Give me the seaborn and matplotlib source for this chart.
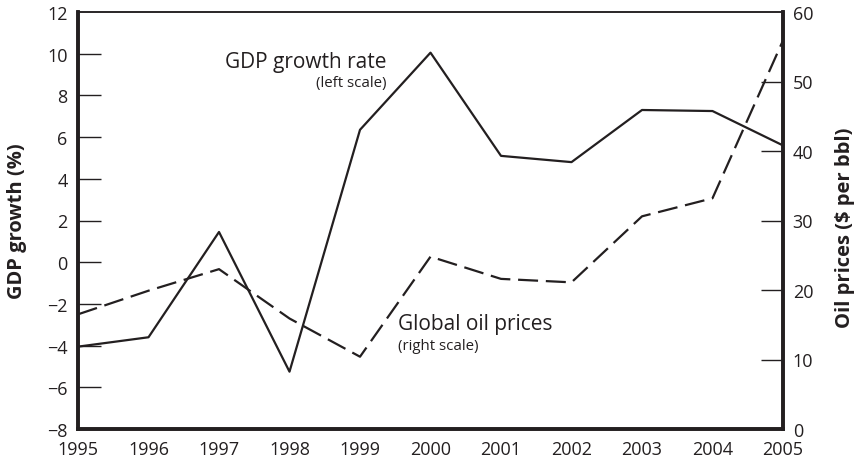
import matplotlib
matplotlib.use("Agg")
import matplotlib.pyplot as plt
import seaborn as sns
import pandas as pd

years = [1995, 1996, 1997, 1998, 1999, 2000, 2001, 2002, 2003, 2004, 2005]
gdp_growth = [-4.05, -3.6, 1.45, -5.25, 6.35, 10.05, 5.1, 4.8, 7.3, 7.25, 5.6]
oil_prices = [16.5, 19.9, 23.0, 15.9, 10.4, 24.8, 21.6, 21.1, 30.6, 33.2, 55.9]
left_ticks = [-8, -6, -4, -2, 0, 2, 4, 6, 8, 10, 12]
right_ticks = [0, 10, 20, 30, 40, 50, 60]

df = pd.DataFrame({"year": years, "gdp": gdp_growth, "oil": oil_prices})

sns.set_style("white")
plt.rcParams['font.family'] = ['Open Sans', 'DejaVu Sans']

fig = plt.figure(figsize=(8.55, 4.64), dpi=100)
ax = fig.add_axes([78/855, 1-430/464, (783-78)/855, (430-13)/464])
ax2 = ax.twinx()

ink = '#231f20'
sns.lineplot(data=df, x="year", y="gdp", ax=ax, color=ink, linewidth=1.6)
sns.lineplot(data=df, x="year", y="oil", ax=ax2, color=ink, linewidth=1.6)
ax2.lines[0].set_dashes((9, 3.5))

ax.set_xlim(1995, 2005)
ax.set_ylim(-8, 12)
ax2.set_ylim(0, 60)
ax.set_xticks(years)
ax.set_yticks(left_ticks)
ax2.set_yticks(right_ticks)
ax.set_yticklabels([("\u2212" + str(-t)) if t < 0 else str(t) for t in left_ticks])

for a in (ax, ax2):
    for s in a.spines.values():
        s.set_color(ink)
    a.spines['top'].set_linewidth(1.1)
    a.spines['left'].set_linewidth(2.6)
    a.spines['bottom'].set_linewidth(2.6)
    a.spines['right'].set_linewidth(2.6)

ax.tick_params(axis='y', direction='in', length=16.5, width=1.0, color=ink,
               labelsize=13, pad=7.5, labelcolor=ink)
ax.tick_params(axis='x', direction='in', length=13, width=1.0, color=ink,
               labelsize=13, pad=8, labelcolor=ink)
ax2.tick_params(axis='y', direction='in', length=16, width=1.0, color=ink,
                labelsize=13, pad=7, labelcolor=ink)

for tl in (ax.yaxis.get_major_ticks(), ax.xaxis.get_major_ticks(), ax2.yaxis.get_major_ticks()):
    for t in (tl[0], tl[-1]):
        t.tick1line.set_visible(False)
        t.tick2line.set_visible(False)
for t in ax.yaxis.get_major_ticks():
    t.tick2line.set_visible(False)

ax.set_xlabel("")
ax.set_ylabel("GDP growth (%)", fontsize=14.5, fontweight='bold', color=ink)
ax2.set_ylabel("Oil prices ($ per bbl)", fontsize=14.5, fontweight='bold', color=ink)
ax.yaxis.set_label_coords((17 - 78) / 705, 0.5)
ax2.yaxis.set_label_coords((845 - 78) / 705, (430 - 228) / 417)
ax.yaxis.label.set_va('center')
ax2.yaxis.label.set_va('center')

ax.text(1999.38, 9.35, "GDP growth rate", fontsize=15, ha='right', va='baseline', color=ink)
ax.text(1999.38, 8.44, "(left scale)", fontsize=10.8, ha='right', va='baseline', color=ink)
ax.text(1999.54, -3.21, "Global oil prices", fontsize=15, ha='left', va='baseline', color=ink)
ax.text(1999.54, -4.17, "(right scale)", fontsize=10.8, ha='left', va='baseline', color=ink)

fig.savefig("out.png", dpi=100)
